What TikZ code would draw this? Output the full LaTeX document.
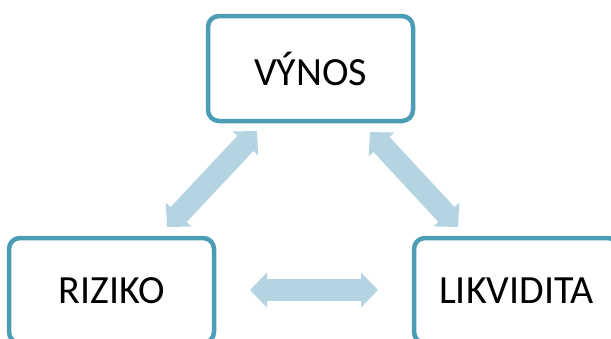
\documentclass[tikz,border=0pt]{standalone}
\usepackage{fontspec}
\setmainfont{Carlito}
\usetikzlibrary{arrows.meta}
\definecolor{boxline}{HTML}{4A9DB4}
\definecolor{arrowfill}{HTML}{B3D4E0}
\tikzset{
  itembox/.style={draw=boxline, line width=4.5pt, rounded corners=11pt, fill=white,
    minimum width=205pt, minimum height=105pt, inner sep=0pt, font=\fontsize{40}{46}\selectfont},
  fatarrow/.style={draw=arrowfill, line width=22pt,
    {Triangle[length=17pt,width=34pt]}-{Triangle[length=17pt,width=34pt]}}
}
\begin{document}
\begin{tikzpicture}[x=1pt,y=-1pt]
\useasboundingbox (0,0) rectangle (611,338);
\node[itembox] (vynos) at (310.5,68.5) {VÝNOS};
\node[itembox] (riziko) at (111.5,290.5) {RIZIKO};
\node[itembox] (likv) at (516.5,290.5) {LIKVIDITA};
\coordinate (a1) at (167,227);
\coordinate (a2) at (257,131);
\coordinate (b1) at (370,132);
\coordinate (b2) at (458,227);
\coordinate (c1) at (250,290);
\coordinate (c2) at (378,290);
\draw[fatarrow] (a1) -- (a2);
\draw[fatarrow] (b1) -- (b2);
\draw[fatarrow] (c1) -- (c2);
\end{tikzpicture}
\end{document}
